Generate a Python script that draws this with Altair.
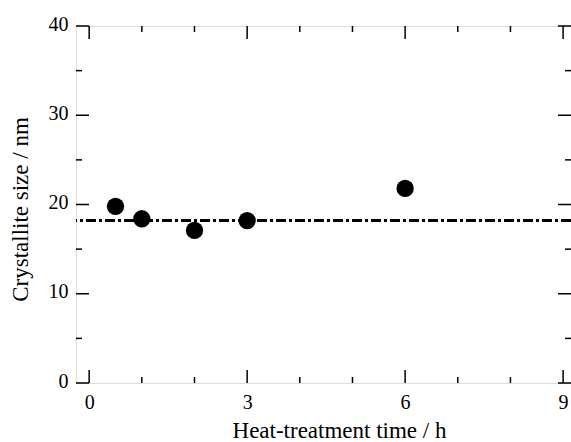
import altair as alt
import pandas as pd

# Data
time_h = [0.5, 1.0, 2.0, 3.0, 6.0]
size_nm = [19.8, 18.4, 17.1, 18.2, 21.8]
mean_size = [18.2]

x_major = [0, 3, 6, 9]
x_minor = [1, 2, 4, 5, 7, 8]
y_major = [0, 10, 20, 30, 40]
y_minor = [5, 15, 25, 35]

W, H = 495, 357
FONT = "Liberation Serif"
MAJ, MIN = 13, 6

xs = alt.Scale(domain=[-0.25, 9.15], nice=False, zero=False)
ys = alt.Scale(domain=[0, 40], nice=False, zero=False)

pts = pd.DataFrame({"t": time_h, "s": size_nm})

base = alt.Chart(pts).mark_point(filled=True, color="black", opacity=1, size=300, shape="circle").encode(
    x=alt.X("t:Q", scale=xs, axis=alt.Axis(
        title="Heat-treatment time / h", values=x_major, ticks=False, tickSize=0, domain=False, grid=False,
        labelFont=FONT, labelFontSize=20, labelColor="black", labelPadding=9,
        titleFont=FONT, titleFontSize=23, titleFontWeight="normal", titleColor="black",
        titleX=263, titleY=54, titleBaseline="alphabetic")),
    y=alt.Y("s:Q", scale=ys, axis=alt.Axis(
        title="Crystallite size / nm", values=y_major, ticks=False, tickSize=0, domain=False, grid=False,
        labelFont=FONT, labelFontSize=20, labelColor="black", labelPadding=8,
        labelOffset=-2,
        titleFont=FONT, titleFontSize=23, titleFontWeight="normal", titleColor="black",
        titleX=-49, titleY=183, titleBaseline="alphabetic")),
)

hline = alt.Chart(pd.DataFrame({"m": mean_size})).mark_rule(
    color="black", strokeWidth=3, strokeDash=[10, 3, 3, 3]
).encode(y=alt.Y("m:Q", scale=ys))


def xticks(vals, length):
    df = pd.DataFrame({"v": vals})
    b = alt.Chart(df).mark_rule(color="black", strokeWidth=1.5).encode(
        x=alt.X("v:Q", scale=xs))
    bottom = b.encode(y=alt.value(H), y2=alt.value(H - length))
    top = b.encode(y=alt.value(0), y2=alt.value(length))
    return [bottom, top]


def yticks(vals, length):
    df = pd.DataFrame({"v": vals})
    b = alt.Chart(df).mark_rule(color="black", strokeWidth=1.5).encode(
        y=alt.Y("v:Q", scale=ys))
    left = b.encode(x=alt.value(0), x2=alt.value(length))
    right = b.encode(x=alt.value(W), x2=alt.value(W - length))
    return [left, right]


layers = [hline] + xticks(x_major, MAJ) + xticks(x_minor, MIN) + yticks(y_major, MAJ) + yticks(y_minor, MIN) + [base]

chart = alt.layer(*layers).properties(
    width=W, height=H,
    autosize=alt.AutoSizeParams(type="none"),
    padding={"left": 76, "top": 26, "right": 0, "bottom": 442 - 26 - H},
).configure_view(stroke="black", strokeWidth=1.5).configure(background="white")

chart.save("out.html", embed_options={"renderer": "svg", "actions": False})
